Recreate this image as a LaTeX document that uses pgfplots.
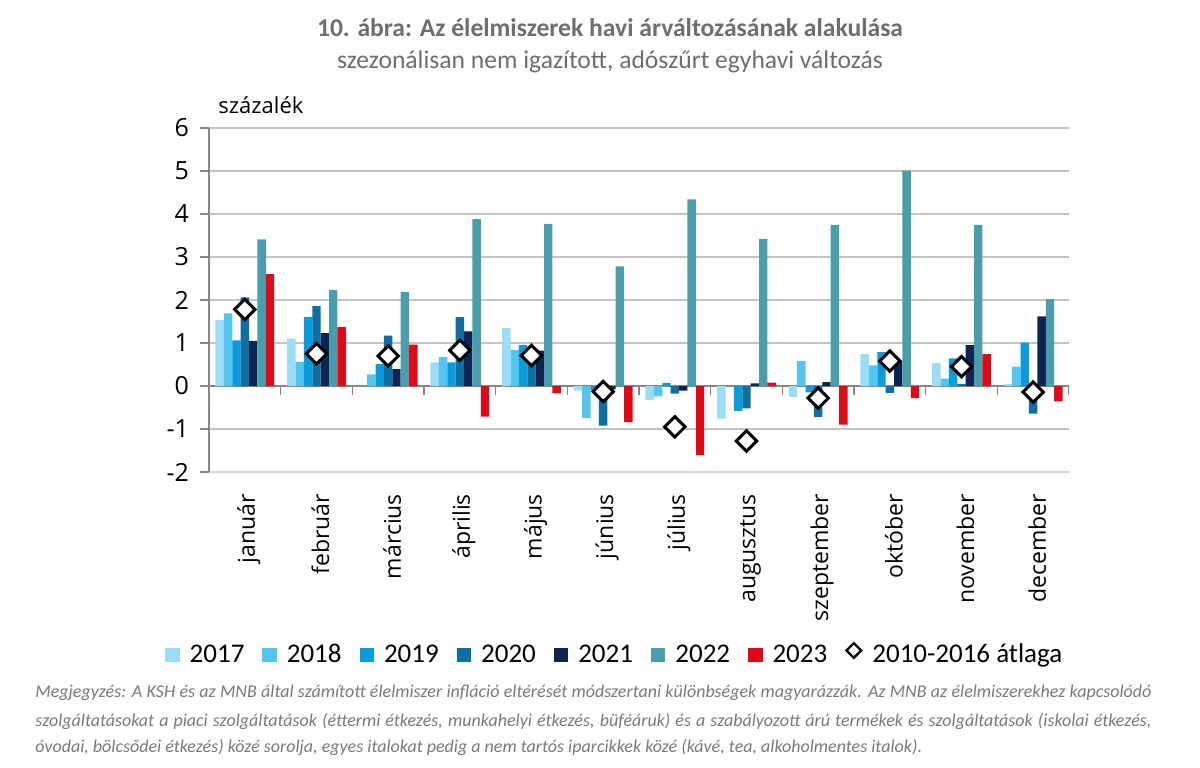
\documentclass[border=0pt]{standalone}
\usepackage{pgfplots}
\usepackage{pgfplotstable}
\pgfplotsset{compat=1.18}
\usepackage{fontspec}
\setmainfont{Carlito}
\newfontfamily\osans{Open Sans}
\definecolor{c17}{HTML}{9DDCF7}
\definecolor{c18}{HTML}{55C5F0}
\definecolor{c19}{HTML}{0A9BDC}
\definecolor{c20}{HTML}{0F6FA3}
\definecolor{c21}{HTML}{0D2550}
\definecolor{c22}{HTML}{4A9EAC}
\definecolor{c23}{HTML}{DE0A17}
\definecolor{ttl}{HTML}{6E6E6E}
\definecolor{notec}{HTML}{7A7A7A}
\definecolor{gridc}{HTML}{C4C4C4}
\definecolor{axc}{HTML}{878787}

\pgfplotstableread{
m y17 y18 y19 y20 y21 y22 y23 avg
0 1.54 1.69 1.06 2.06 1.05 3.41 2.60 1.78
1 1.10 0.56 1.60 1.86 1.23 2.23 1.37 0.75
2 0.00 0.27 0.51 1.17 0.39 2.19 0.96 0.70
3 0.55 0.68 0.55 1.60 1.27 3.88 -0.71 0.83
4 1.35 0.84 0.95 0.85 0.82 3.77 -0.17 0.71
5 -0.11 -0.74 -0.10 -0.92 -0.08 2.78 -0.84 -0.13
6 -0.32 -0.24 0.07 -0.18 -0.11 4.34 -1.61 -0.95
7 -0.76 0.00 -0.58 -0.52 0.06 3.42 0.08 -1.28
8 -0.25 0.58 -0.15 -0.72 0.09 3.75 -0.90 -0.28
9 0.74 0.48 0.79 -0.16 0.58 5.01 -0.28 0.58
10 0.53 0.17 0.64 0.05 0.95 3.75 0.74 0.45
11 0.05 0.45 1.01 -0.64 1.62 2.02 -0.36 -0.14
}\data

\pgfplotsset{
  mybar/.style={ybar, bar width=0.117, bar shift=#1, draw=none,
    legend image code/.code={\fill[##1] (0pt,-3.6pt) rectangle (7.2pt,3.6pt);}},
  avgleg/.style={legend image code/.code={\node[draw=black, fill=white, line width=1.2pt, rotate=45, minimum size=5.2pt, inner sep=0pt] at (3.6pt,0pt) {};}},
}

\begin{document}
\begin{tikzpicture}
\path[use as bounding box] (0,0) rectangle (600pt,383.5pt);
\begin{axis}[
  at={(104.5pt,147.5pt)}, anchor=south west,
  scale only axis, width=430pt, height=172pt,
  xmin=-0.5, xmax=11.5, ymin=-2, ymax=6,
  ytick={-2,-1,0,1,2,3,4,5,6},
  yticklabels={-2,-1,0,1,2,3,4,5,6},
  xtick={0,...,11},
  xticklabels={január,február,március,április,május,június,július,augusztus,szeptember,október,november,december},
  axis x line*=bottom, axis y line*=left,
  x axis line style={draw=gray!30, line width=1.3pt},
  y axis line style={draw=axc, line width=0.6pt},
  xtick style={draw=none},
  ytick style={draw=axc, line width=0.6pt},
  tick align=outside, major tick length=4.5pt,
  ymajorgrids, grid style={gridc, line width=0.6pt},
  yticklabel style={font=\osans\fontsize{12.5}{14}\selectfont, xshift=-2pt},
  xticklabel style={font=\osans\fontsize{11.5}{13}\selectfont, rotate=90, anchor=east, xshift=-3pt, yshift=-2pt},
  legend columns=8,
  legend style={at={(0.473,-0.532)}, anchor=center, draw=none, fill=none,
    font=\fontsize{13.5}{16}\selectfont, inner sep=0pt,
    /tikz/every even column/.append style={column sep=7pt},
    /tikz/every odd column/.append style={column sep=3pt}},
  legend cell align=left,
]
\draw[axc, line width=0.6pt] (axis cs:-0.5,0) -- (axis cs:11.5,0);
\pgfplotsinvokeforeach{-0.5,0.5,1.5,2.5,3.5,4.5,5.5,6.5,7.5,8.5,9.5,10.5,11.5}{
  \draw[axc, line width=0.6pt] (axis cs:#1,0) -- ([yshift=-4.5pt]axis cs:#1,0);
}
\addplot[mybar=-0.351, fill=c17] table[x=m, y=y17] {\data};
\addlegendentry{2017}
\addplot[mybar=-0.234, fill=c18] table[x=m, y=y18] {\data};
\addlegendentry{2018}
\addplot[mybar=-0.117, fill=c19] table[x=m, y=y19] {\data};
\addlegendentry{2019}
\addplot[mybar=0, fill=c20] table[x=m, y=y20] {\data};
\addlegendentry{2020}
\addplot[mybar=0.117, fill=c21] table[x=m, y=y21] {\data};
\addlegendentry{2021}
\addplot[mybar=0.234, fill=c22] table[x=m, y=y22] {\data};
\addlegendentry{2022}
\addplot[mybar=0.351, fill=c23] table[x=m, y=y23] {\data};
\addlegendentry{2023}
\addplot[only marks, mark=square*, mark size=3.6pt,
  mark options={rotate=45, fill=white, draw=black, line width=1.5pt}, avgleg]
  table[x=m, y=avg] {\data};
\addlegendentry{2010-2016 átlaga}
\end{axis}
\node[font=\bfseries\fontsize{12.8}{14}\selectfont, text=ttl] at (305pt,369.5pt) {10. ábra: Az élelmiszerek havi árváltozásának alakulása};
\node[font=\fontsize{12.8}{14}\selectfont, text=ttl] at (305pt,352.5pt) {szezonálisan nem igazított, adószűrt egyhavi változás};
\node[font=\osans\fontsize{11}{13}\selectfont, anchor=west, inner sep=0pt] at (109pt,331pt) {százalék};
\begin{scope}[every node/.style={font=\itshape\fontsize{9}{10}\selectfont, text=notec, anchor=west, inner sep=0pt}]
\node at (17.5pt,37pt) {\makebox[558pt][s]{Megjegyzés: A KSH és az MNB által számított élelmiszer infláció eltérését módszertani különbségek magyarázzák. Az MNB az élelmiszerekhez kapcsolódó}};
\node at (17.5pt,23pt) {\makebox[558pt][s]{szolgáltatásokat a piaci szolgáltatások (éttermi étkezés, munkahelyi étkezés, büféáruk) és a szabályozott árú termékek és szolgáltatások (iskolai étkezés,}};
\node at (17.5pt,10pt) {óvodai, bölcsődei étkezés) közé sorolja, egyes italokat pedig a nem tartós iparcikkek közé (kávé, tea, alkoholmentes italok).};
\end{scope}
\end{tikzpicture}
\end{document}
